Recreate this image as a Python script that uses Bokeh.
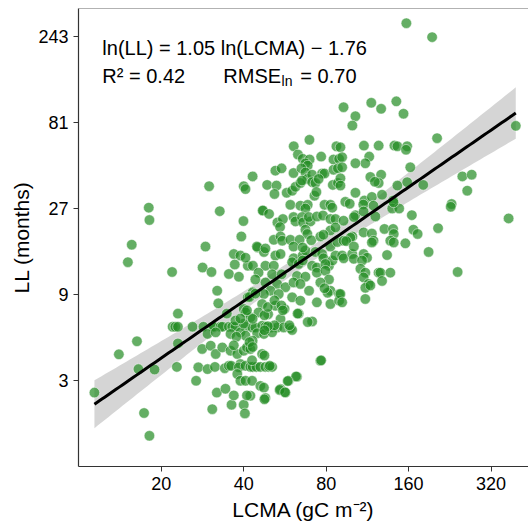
import numpy as np
from bokeh.plotting import figure
from bokeh.models import FixedTicker, Label, Span
from bokeh.embed import file_html
from bokeh.resources import INLINE

# ---- data (LCMA in gC m-2, LL in months) ----
lcma = [11.4, 14.0, 16.3, 16.5, 18.9, 17.3, 18.1, 15.1, 15.6, 18.0, 18.1, 21.9, 23.0, 22.0, 22.5, 23.0, 23.0, 22.8, 26.0, 26.8,
        28.3, 36.8, 38.9, 41.4, 37.1, 35.3, 38.4, 30.5, 32.0, 32.3, 40.0, 40.6, 28.5, 30.7, 31.1, 32.9, 33.4, 35.3, 36.3, 37.3,
        40.6, 29.5, 31.6, 35.8, 38.9, 40.6, 28.2, 30.3, 31.6, 33.4, 35.8, 37.9, 40.0, 41.1, 27.3, 29.5, 31.4, 34.1, 35.3, 36.0,
        38.9, 38.4, 40.6, 37.9, 38.9, 40.6, 31.9, 34.3, 30.7, 36.1, 40.0, 40.4, 39.2, 39.9, 32.7, 29.9, 40.0, 40.6, 43.1, 29.0,
        46.9, 45.0, 40.6, 47.4, 52.2, 54.5, 60.9, 65.7, 67.2, 73.1, 77.3, 78.2, 81.9, 84.3, 86.5, 43.2, 48.0, 51.5, 60.1, 63.5,
        65.7, 71.1, 74.0, 79.5, 45.3, 50.8, 55.0, 62.6, 67.2, 74.0, 79.5, 81.9, 44.1, 48.0, 53.0, 56.8, 60.8, 64.4, 69.3, 76.2,
        82.9, 89.2, 50.1, 53.7, 43.1, 47.4, 60.1, 64.4, 74.0, 82.9, 89.2, 46.7, 52.2, 56.4, 45.3, 49.1, 63.5, 54.5, 71.1, 42.3,
        43.0, 44.1, 46.7, 48.0, 50.1, 53.0, 56.0, 59.2, 60.1, 44.8, 47.4, 50.8, 43.1, 42.3, 46.7, 76.2, 42.3, 43.1, 44.5, 46.0,
        48.0, 49.4, 50.8, 62.6, 58.3, 42.9, 46.0, 47.4, 54.5, 56.8, 48.0, 42.3, 91.5, 92.7, 99.6, 100.9, 109.6, 112.8, 133.5, 189.3,
        108.2, 106.7, 111.2, 109.6, 124.3, 126.2, 137.2, 128.0, 114.3, 111.2, 116.0, 90.2, 91.5, 111.2, 241.6, 76.7, 62.1, 57.9, 54.1, 56.6,
        47.6, 81.0, 78.9, 68.5, 62.9, 69.5, 60.9, 63.1, 87.2, 76.7, 65.7, 69.6, 67.2, 68.5, 85.1, 89.2, 52.2, 55.0, 60.8, 65.0,
        67.2, 68.3, 71.1, 77.3, 78.9, 85.1, 88.3, 48.7, 52.7, 51.8, 57.4, 60.1, 61.8, 64.4, 65.3, 71.1, 73.1, 75.1, 84.6, 88.3,
        72.5, 73.7, 59.2, 64.4, 68.5, 67.2, 78.9, 82.9, 84.2, 47.0, 49.5, 53.1, 55.6, 54.3, 60.8, 61.8, 65.3, 65.9, 70.1, 69.1,
        74.0, 77.9, 82.9, 86.5, 67.2, 68.3, 82.9, 86.5, 51.5, 54.5, 55.3, 59.2, 64.0, 70.6, 76.2, 78.2, 44.7, 48.0, 60.8, 65.7,
        82.9, 87.9, 92.6, 116.9, 127.0, 144.3, 153.3, 102.3, 99.7, 109.9, 124.4, 142.0, 145.6, 158.1, 156.6, 90.2, 114.9, 111.2, 102.3, 91.5,
        91.5, 162.3, 116.0, 127.0, 124.4, 120.5, 90.2, 90.2, 145.6, 158.1, 102.3, 94.0, 97.5, 110.3, 109.3, 117.5, 119.1, 128.0, 140.5, 139.4,
        147.8, 141.0, 164.4, 102.3, 101.0, 109.6, 121.0, 92.6, 99.7, 98.1, 92.6, 94.7, 109.6, 117.5, 119.1, 117.5, 130.6, 140.5, 141.2, 137.2,
        141.2, 155.7, 166.6, 172.6, 101.0, 203.3, 394.0, 251.4, 272.0, 262.0, 229.7, 228.0, 371.0, 205.0, 157.0, 195.0, 41.4, 40.0, 43.1, 37.6,
        36.8, 42.0, 43.1, 42.9, 36.8, 41.1, 34.7, 37.3, 38.9, 41.1, 42.0, 44.1, 181.0,
        47.6, 49.0, 51.8, 54.9, 55.6, 58.7, 51.8, 49.0, 47.6, 47.6, 49.8]
ll = [2.57, 4.19, 4.95, 3.47, 3.45, 1.98, 1.48, 13.6, 17.0, 27.3, 23.3, 12.0, 7.05, 5.96, 5.96, 5.96, 4.82, 3.57, 5.96, 2.99,
      12.7, 15.1, 14.8, 13.0, 13.2, 11.7, 11.3, 12.0, 9.45, 8.04, 7.48, 7.16, 5.96, 5.96, 5.96, 5.96, 5.96, 5.96, 5.96, 5.96,
      5.96, 5.44, 5.55, 5.44, 5.55, 5.32, 4.49, 4.68, 4.21, 4.58, 4.39, 4.21, 4.39, 4.58, 3.55, 3.47, 3.57, 3.51, 3.62, 3.62,
      3.70, 3.55, 3.62, 3.26, 2.99, 2.99, 2.57, 2.70, 2.08, 2.20, 2.20, 1.97, 18.9, 23.0, 26.1, 35.9, 35.9, 34.6, 40.7, 16.6,
      26.3, 16.4, 14.4, 15.5, 14.8, 15.1, 14.3, 14.8, 15.8, 15.5, 15.1, 14.3, 13.0, 13.9, 14.8, 13.0, 13.0, 13.0, 13.6, 13.3,
      13.9, 13.0, 12.7, 13.3, 11.9, 11.65, 11.65, 11.4, 11.3, 11.9, 12.2, 10.9, 10.9, 10.5, 10.3, 9.88, 10.5, 10.3, 9.45, 10.5,
      9.45, 9.06, 9.45, 9.06, 9.25, 9.06, 8.68, 8.32, 8.14, 7.97, 8.32, 7.97, 7.80, 7.48, 7.16, 7.0, 7.05, 6.58, 6.38, 6.72,
      5.91, 5.91, 6.04, 5.96, 5.91, 5.91, 5.91, 5.86, 5.72, 5.49, 5.44, 5.55, 4.99, 4.49, 4.21, 3.86, 3.57, 3.57, 3.57, 3.57,
      3.57, 3.57, 3.57, 3.15, 2.99, 2.99, 2.80, 2.74, 2.69, 2.57, 2.40, 2.47, 14.8, 14.3, 15.1, 14.2, 15.1, 14.4, 14.9, 15.5,
      13.9, 12.5, 11.9, 11.2, 11.9, 11.9, 11.9, 10.7, 10.3, 9.8, 10.1, 9.06, 8.14, 8.5, 12.0, 3.88, 3.16, 2.98, 2.66, 2.58,
      2.36, 9.2, 9.75, 6.33, 7.05, 64.9, 59.8, 53.8, 59.8, 52.4, 50.9, 50.5, 48.1, 46.7, 50.5, 50.9, 43.8, 45.1, 42.5, 45.1,
      42.8, 39.4, 41.6, 42.2, 42.2, 44.3, 45.1, 36.5, 36.2, 32.5, 33.0, 33.9, 35.6, 37.4, 38.6, 37.8, 37.4, 39.4, 36.5, 37.4,
      31.8, 33.3, 28.3, 28.0, 28.3, 27.0, 28.3, 28.3, 27.3, 26.3, 25.2, 22.6, 23.6, 21.3, 24.2, 22.9, 24.2, 22.6, 22.9, 24.2,
      24.4, 24.7, 23.6, 23.6, 20.6, 19.5, 20.4, 21.2, 18.1, 18.9, 17.9, 18.1, 18.1, 18.0, 18.9, 19.3, 16.6, 16.2, 16.6, 16.4,
      16.6, 17.6, 98.5, 104.2, 96.5, 106.1, 90.6, 87.8, 77.9, 60.3, 60.3, 60.3, 59.8, 59.8, 57.2, 59.0, 52.4, 48.1, 48.1, 52.0,
      45.7, 45.7, 40.4, 41.6, 37.4, 38.0, 39.7, 36.2, 36.2, 37.8, 33.0, 29.4, 28.7, 29.9, 28.4, 31.3, 28.0, 32.2, 29.9, 27.0,
      27.0, 29.2, 24.8, 24.8, 24.2, 26.0, 24.4, 23.1, 18.9, 18.6, 17.9, 17.8, 19.9, 19.6, 17.9, 17.5, 20.8, 20.8, 19.5, 17.9,
      17.5, 17.3, 20.6, 19.5, 16.6, 66.3, 77.6, 40.7, 41.6, 33.9, 28.6, 27.6, 23.8, 21.0, 288.0, 241.0, 8.68, 6.2, 6.6, 5.25,
      4.70, 4.9, 4.6, 3.88, 2.48, 2.48, 7.05, 6.45, 6.62, 7.35, 8.72, 9.1, 36.5,
      6.9, 7.67, 8.35, 7.83, 7.35, 6.07, 6.07, 6.0, 5.7, 4.13, 3.62]

x_ticks = [20, 40, 80, 160, 320]
x_tick_labels = ["20", "40", "80", "160", "320"]
y_ticks = [3, 9, 27, 81, 243]
y_tick_labels = ["3", "9", "27", "81", "243"]

slope, intercept = 1.05, -1.76
r2, rmse_ln = 0.42, 0.70
band_z = 2.7

FONT = "Liberation Sans"

p = figure(width=528, height=526, x_axis_type="log", y_axis_type="log",
           x_range=(9.97, 438.5), y_range=(1.0, 347.5),
           output_backend="svg", toolbar_location=None,
           min_border_left=78, min_border_right=0, min_border_top=8, min_border_bottom=60,
           background_fill_color="white", border_fill_color="white")
p.outline_line_color = None
p.grid.visible = False

# regression line and confidence band (from the printed fit)
lx = np.log(np.array(lcma))
n = len(lx)
mx = lx.mean()
sxx = ((lx - mx) ** 2).sum()
xs = np.linspace(lx.min(), lx.max(), 120)
fit = slope * xs + intercept
se = rmse_ln * np.sqrt(1.0 / n + (xs - mx) ** 2 / sxx)
p.varea(x=np.exp(xs), y1=np.exp(fit - band_z * se), y2=np.exp(fit + band_z * se),
        fill_color="#808080", fill_alpha=0.33)

p.scatter(lcma, ll, size=10.5, fill_color="#228B22", fill_alpha=0.7,
          line_color="white", line_alpha=0.8, line_width=0.6)

p.line(np.exp(xs), np.exp(fit), line_color="black", line_width=3)

# top frame line
p.add_layout(Span(location=347.5, dimension="width", line_color="#666666", line_width=1))

for ax, ticks, labels in ((p.xaxis, x_ticks, x_tick_labels), (p.yaxis, y_ticks, y_tick_labels)):
    ax.ticker = FixedTicker(ticks=ticks, minor_ticks=[])
    ax.major_label_overrides = {t: s for t, s in zip(ticks, labels)}
    ax.minor_tick_line_color = None
    ax.major_tick_out = 5
    ax.major_tick_in = 0
    ax.major_tick_line_color = "#333333"
    ax.axis_line_color = "#333333"
    ax.axis_line_width = 1.2
    ax.major_label_text_font = FONT
    ax.major_label_text_font_size = "18px"
    ax.major_label_text_color = "black"
    ax.axis_label_text_font = FONT
    ax.axis_label_text_font_size = "21px"
    ax.axis_label_text_font_style = "normal"
    ax.axis_label_text_color = "black"

p.xaxis.axis_label = "LCMA (gC m\u207b\u00b2)"
p.yaxis.axis_label = "LL (months)"
p.xaxis.major_label_standoff = 5
p.yaxis.major_label_standoff = 5
p.xaxis.axis_label_standoff = 5
p.yaxis.axis_label_standoff = 2

def lab(x, y, text, size="20px"):
    p.add_layout(Label(x=x, y=y, text=text, text_font=FONT, text_font_size=size,
                       text_color="black", text_baseline="alphabetic", text_align="left"))

lab(12.18, 210.3, "ln(LL) = %.2f ln(LCMA) \u2212 %.2f" % (slope, -intercept))
lab(12.18, 145.9, "R\u00b2 = %.2f" % r2)
lab(33.7, 145.9, "RMSE")
lab(55.0, 138.5, "ln", "14px")
lab(64.4, 145.9, "= %.2f" % rmse_ln)

open("out.html", "w").write(file_html(p, INLINE))
